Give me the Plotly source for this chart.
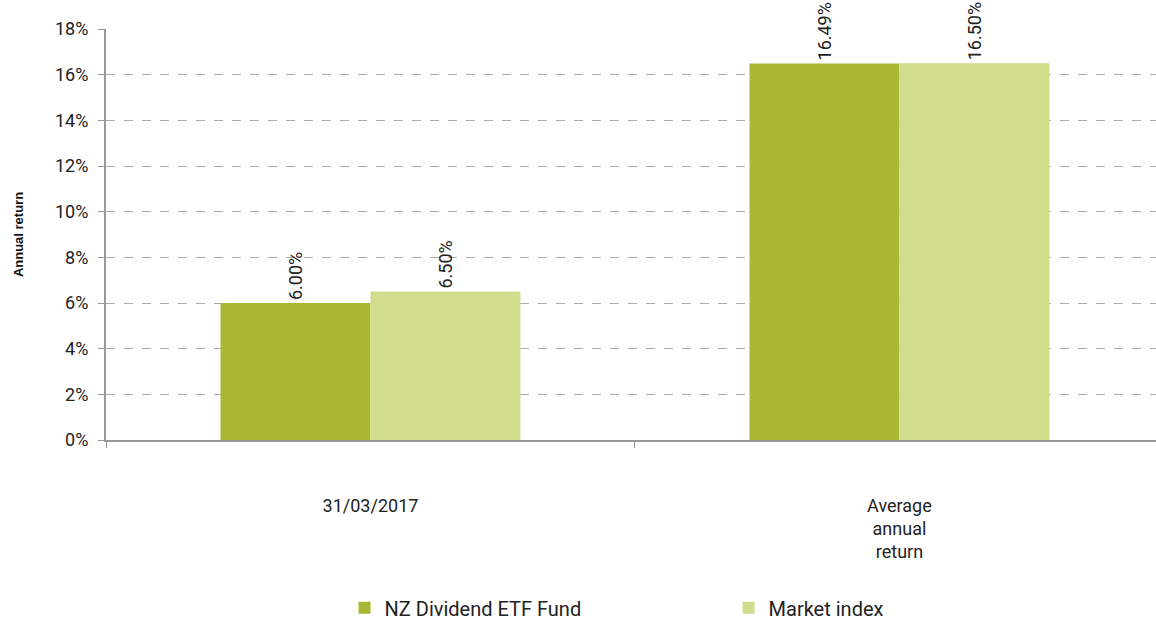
import plotly.graph_objects as go

categories = ["31/03/2017", "Average<br>annual<br>return"]
fund_name = "NZ Dividend ETF Fund"
index_name = "Market index"
fund_values = [6.00, 16.49]
index_values = [6.50, 16.50]
fund_labels = ["6.00%", "16.49%"]
index_labels = ["6.50%", "16.50%"]
y_ticks = [0, 2, 4, 6, 8, 10, 12, 14, 16, 18]
y_tick_labels = [f"{v}%" for v in y_ticks]

FONT = "Roboto"

fig = go.Figure()
fig.add_trace(go.Bar(
    x=categories, y=fund_values, name=fund_name,
    marker=dict(color="#abb633", line=dict(width=0)),
    text=fund_labels, textposition="outside", textangle=-90,
    textfont=dict(family=FONT, size=18, color="#222"),
    cliponaxis=False,
))
fig.add_trace(go.Bar(
    x=categories, y=index_values, name=index_name,
    marker=dict(color="#d1dc8c", line=dict(width=0)),
    text=index_labels, textposition="outside", textangle=-90,
    textfont=dict(family=FONT, size=18, color="#222"),
    cliponaxis=False,
))

fig.update_layout(
    width=1156, height=622,
    margin=dict(l=106, r=0, t=29, b=182, autoexpand=False),
    paper_bgcolor="white", plot_bgcolor="white",
    barmode="group", bargap=0.433, bargroupgap=0,
    font=dict(family=FONT, color="#222"),
    showlegend=True,
    legend=dict(orientation="h", x=0.2272, xanchor="left", y=-0.361, yanchor="top",
                font=dict(family=FONT, size=20, color="#222"),
                itemwidth=30, entrywidth=339, entrywidthmode="pixels",
                itemclick=False),
    xaxis=dict(
        range=[-0.5, 1.485],
        showline=True, linecolor="#999", linewidth=2,
        ticks="outside", tickson="boundaries", ticklen=6, tickcolor="#999",
        tickfont=dict(family=FONT, size=18, color="#222"),
        ticklabelstandoff=48,
        showgrid=False,
    ),
    yaxis=dict(
        range=[0, 18], tickvals=y_ticks, ticktext=y_tick_labels,
        showline=True, linecolor="#999", linewidth=2,
        ticks="outside", ticklen=6, tickcolor="#999",
        tickfont=dict(family=FONT, size=18, color="#222"),
        ticklabelstandoff=6,
        showgrid=True, gridcolor="#aaa", griddash="dash", gridwidth=1,
        zeroline=False,
        title=dict(text="<b>Annual return</b>",
                   font=dict(family="Liberation Sans", size=13, color="#111"),
                   standoff=28),
    ),
)

fig.write_html("out.html")
